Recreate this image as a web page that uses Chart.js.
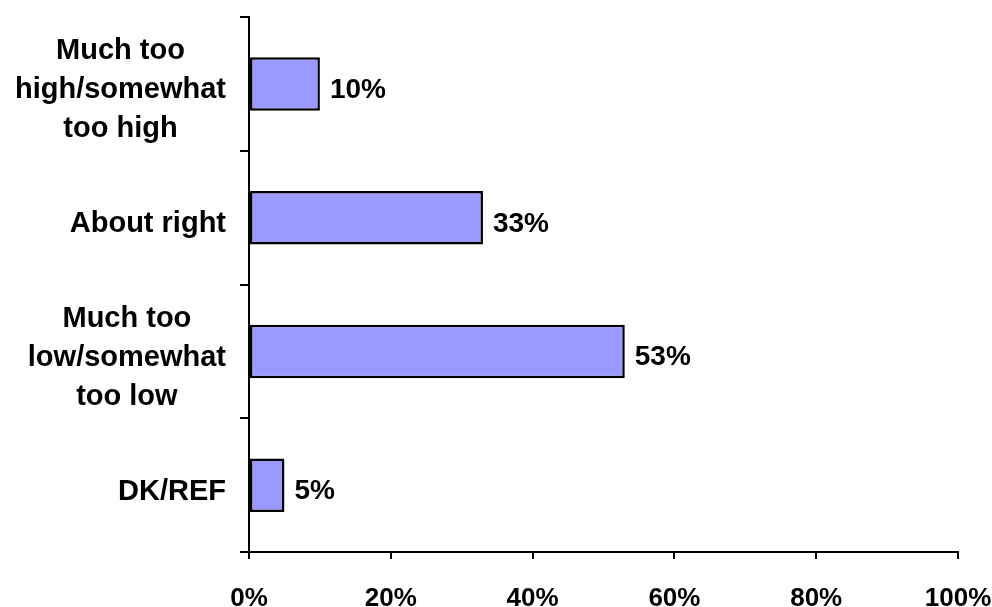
<!DOCTYPE html>
<html><head><meta charset="utf-8">
<script src="https://cdn.jsdelivr.net/npm/chart.js@4"></script>
<style>html,body{margin:0;padding:0;background:#fff;}</style>
</head><body>
<canvas id="c" width="992" height="607"></canvas>
<script>
const categories = [["Much too","high/somewhat","too high"],["About right"],["Much too","low/somewhat","too low"],["DK/REF"]];
const values = [10, 33, 53, 5];
const xTickValues = [0, 20, 40, 60, 80, 100];

const FAMILY = '"Liberation Sans", Arial, sans-serif';
const CAT_FONT = 'bold 29px ' + FAMILY;
const VAL_FONT = 'bold 28px ' + FAMILY;

const labelPlugin = {
  id: 'customLabels',
  afterDatasetsDraw(chart) {
    const ctx = chart.ctx;
    const ys = chart.scales.y;
    ctx.save();
    ctx.fillStyle = '#000';
    ctx.textBaseline = 'alphabetic';
    ctx.font = CAT_FONT;
    categories.forEach((lines, i) => {
      const cy = ys.getPixelForValue(i);
      const w = Math.max(...lines.map(l => ctx.measureText(l).width));
      const cx = ys.right - 23 - w / 2;
      ctx.textAlign = 'center';
      const n = lines.length;
      lines.forEach((l, j) => {
        ctx.fillText(l, cx, cy + 14.5 + (j - (n - 1) / 2) * 39);
      });
    });
    ctx.font = VAL_FONT;
    const meta = chart.getDatasetMeta(0);
    meta.data.forEach((bar, i) => {
      ctx.textAlign = 'left';
      ctx.fillText(values[i] + '%', bar.x + 10, bar.y + 14);
    });
    ctx.restore();
  }
};

new Chart(document.getElementById('c'), {
  type: 'bar',
  data: {
    labels: categories,
    datasets: [{
      data: values,
      backgroundColor: '#9999FF',
      borderColor: '#000',
      borderWidth: 2.5,
      borderSkipped: false,
      barPercentage: 0.4,
      categoryPercentage: 1.0
    }]
  },
  options: {
    indexAxis: 'y',
    responsive: false,
    animation: false,
    layout: { padding: { left: 0, right: 34, top: 17, bottom: 0 } },
    plugins: { legend: { display: false }, tooltip: { enabled: false } },
    scales: {
      x: {
        min: 0, max: 100,
        afterBuildTicks: s => { s.ticks = xTickValues.map(v => ({ value: v })); },
        afterFit: s => { s.height = 55; s.paddingLeft = 0; s.paddingRight = 0; },
        grid: { display: true, drawOnChartArea: false, drawTicks: true, tickLength: 7, color: '#000', lineWidth: 2 },
        border: { display: true, color: '#000', width: 2 },
        ticks: {
          callback: v => v + '%',
          color: '#000',
          font: { family: FAMILY, size: 26, weight: 'bold' },
          padding: 24,
          maxRotation: 0,
          autoSkip: false
        }
      },
      y: {
        afterFit: s => { s.width = 249; s.paddingTop = 0; s.paddingBottom = 0; },
        grid: { display: true, offset: true, drawOnChartArea: false, drawTicks: true, tickLength: 9, color: '#000', lineWidth: 2 },
        border: { display: true, color: '#000', width: 2 },
        ticks: { display: false }
      }
    }
  },
  plugins: [labelPlugin]
});
</script>
</body></html>
